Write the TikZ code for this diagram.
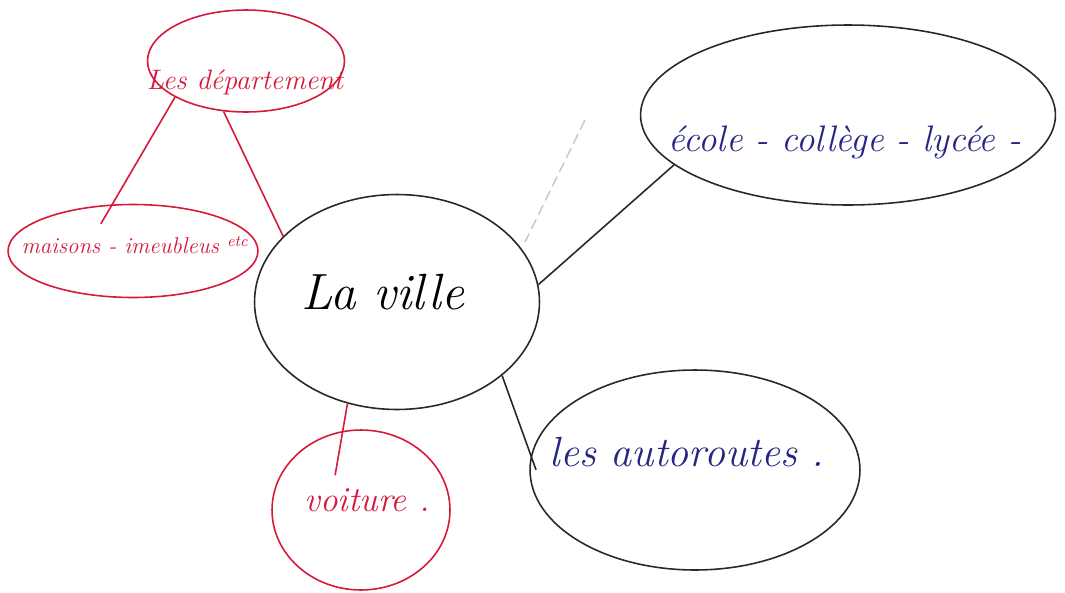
\documentclass[tikz,border=0pt]{standalone}
\usepackage{xcolor}
\definecolor{mapred}{RGB}{214,24,58}
\definecolor{mapblue}{RGB}{38,38,128}
\definecolor{mapink}{RGB}{40,40,40}
\usetikzlibrary{shapes.geometric}

\begin{document}
\begin{tikzpicture}[x=0.02cm,y=-0.02cm,
  blob/.style={draw,ellipse,inner sep=0pt,line width=0.9pt},
  word/.style={font=\itshape,align=center,inner sep=1pt},
  link/.style={line width=0.9pt}
]
  \useasboundingbox[fill=white] (0,0) rectangle (1065,592);

  % centre
  \node[blob,mapink,minimum width=5.7cm,minimum height=4.3cm] (ville) at (397,302) {};
  \node[word,font=\fontsize{29}{34}\selectfont\itshape] at (383,292) {La ville};

  % red branches
  \node[blob,mapred,minimum width=3.94cm,minimum height=2.04cm] (dept) at (246,61) {};
  \node[word,mapred,font=\fontsize{16}{19}\selectfont\itshape] at (245,82) {Les département};

  \node[blob,mapred,minimum width=5cm,minimum height=1.86cm] (maisons) at (133,251) {};
  \node[word,mapred,font=\fontsize{13}{16}\selectfont\itshape] at (135,245) {maisons - imeubleus \textsuperscript{etc}};

  \node[blob,mapred,minimum width=3.56cm,minimum height=3.2cm] (voiture) at (361,510) {};
  \node[word,mapred,font=\fontsize{20}{24}\selectfont\itshape] at (367,500) {voiture .};

  % blue branches
  \node[blob,mapink,minimum width=8.3cm,minimum height=3.6cm] (ecole) at (848,115) {};
  \node[word,mapblue,font=\fontsize{21}{25}\selectfont\itshape] at (845,142) {école - collège - lycée -};

  \node[blob,mapink,minimum width=6.6cm,minimum height=4cm] (autoroutes) at (695,470) {};
  \node[word,mapblue,font=\fontsize{24}{28}\selectfont\itshape] at (687,452) {les autoroutes .};

  % connectors
  \draw[link,mapred,shorten >=-0.45cm] (dept.207) -- (maisons.114);
  \draw[link,mapred] (dept.246) -- (ville.150);
  \draw[link,mapred,shorten >=-0.9cm] (ville.244) -- (voiture.103);
  \draw[link,mapink] (ville.7) -- (ecole.196);
  \draw[link,mapink,shorten >=-0.3cm] (ville.325) -- (autoroutes.175);

  % erased pencil stroke
  \coordinate (pencilA) at (585,120);
  \coordinate (pencilB) at (525,242);
  \draw[gray!45,line width=0.8pt,dash pattern=on 6pt off 3pt] (pencilA) -- (pencilB);
\end{tikzpicture}
\end{document}
